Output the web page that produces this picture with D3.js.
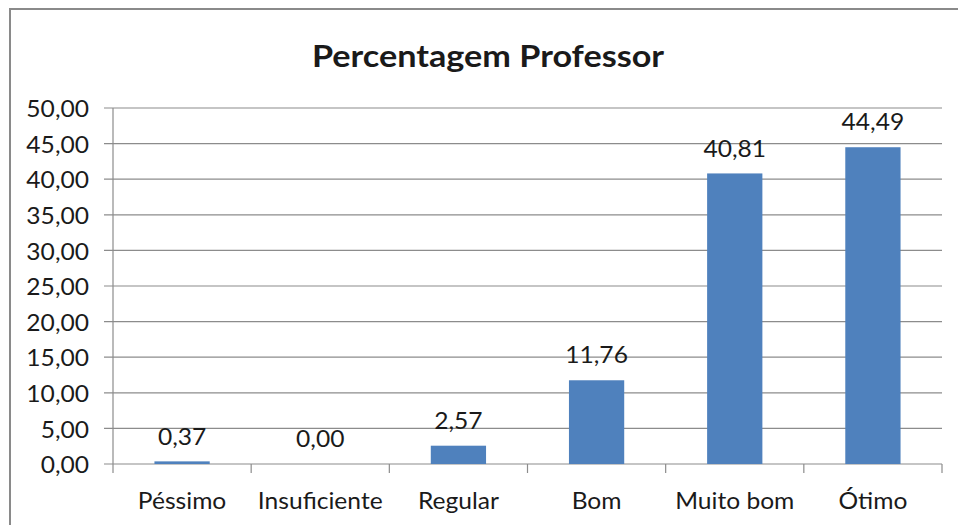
<!DOCTYPE html>
<html>
<head>
<meta charset="utf-8">
<script src="https://cdn.jsdelivr.net/npm/d3@7"></script>
<style>
  body { margin: 0; background: #fff; }
  text { font-family: Lato, "Open Sans", sans-serif; fill: #1a1a1a; }
</style>
</head>
<body>
<div id="content"></div>
<script>
// data
var categories = ["Péssimo", "Insuficiente", "Regular", "Bom", "Muito bom", "Ótimo"];
var values = [0.37, 0.00, 2.57, 11.76, 40.81, 44.49];
var yTicks = [0, 5, 10, 15, 20, 25, 30, 35, 40, 45, 50];
var title = "Percentagem Professor";

var W = 958, H = 525;
var margin = {top: 108, right: 16, bottom: 61, left: 113},
  width = W - margin.left - margin.right,
  height = H - margin.top - margin.bottom;

var fmt = function(v) { return v.toFixed(2).replace(".", ","); };
// the source font is wider than Lato, stretch text a bit
var sx = 1.07;
var place = function(px, py, s) { return "translate(" + px + "," + py + ") scale(" + s + ",1)"; };

var svg = d3.select("#content").append("svg")
  .attr("width", W)
  .attr("height", H);

// outer chart border (runs off the right / bottom edge)
svg.append("rect")
  .attr("x", 10).attr("y", 9)
  .attr("width", W + 20).attr("height", H + 20)
  .attr("fill", "none")
  .attr("stroke", "#8a8a8a")
  .attr("stroke-width", 2);

svg.append("text")
  .attr("transform", place(488, 55, 1.14))
  .attr("text-anchor", "middle")
  .attr("dominant-baseline", "central")
  .style("font-size", "30px")
  .style("font-weight", "bold")
  .text(title);

var g = svg.append("g")
  .attr("transform", "translate(" + margin.left + "," + margin.top + ")");

var x = d3.scaleBand().domain(categories).range([0, width]).paddingInner(0.6).paddingOuter(0.3);
var y = d3.scaleLinear().domain([0, 50]).range([height, 0]);

// gridlines
g.selectAll(".grid")
  .data(yTicks)
  .enter().append("line")
  .attr("x1", -9).attr("x2", width)
  .attr("y1", function(d) { return y(d); })
  .attr("y2", function(d) { return y(d); })
  .attr("stroke", "#8c8c8c")
  .attr("stroke-width", 1.2);

// y axis line
g.append("line")
  .attr("x1", 0).attr("x2", 0)
  .attr("y1", 0).attr("y2", height)
  .attr("stroke", "#8c8c8c").attr("stroke-width", 1.2);

// y labels
g.selectAll(".ylab")
  .data(yTicks)
  .enter().append("text")
  .attr("transform", function(d) { return place(-24, y(d), sx); })
  .attr("text-anchor", "end")
  .attr("dominant-baseline", "central")
  .style("font-size", "23px")
  .text(fmt);

// x axis ticks at band edges
var edges = categories.map(function(c) { return x(c) - x.step() * x.paddingInner() / 2; });
edges.push(width);
g.selectAll(".xtick")
  .data(edges)
  .enter().append("line")
  .attr("x1", function(d) { return d; })
  .attr("x2", function(d) { return d; })
  .attr("y1", height).attr("y2", height + 9)
  .attr("stroke", "#8c8c8c").attr("stroke-width", 1.2);

// bars
g.selectAll(".bar")
  .data(values)
  .enter().append("rect")
  .attr("x", function(d, i) { return x(categories[i]); })
  .attr("width", x.bandwidth())
  .attr("y", function(d) { return y(d); })
  .attr("height", function(d) { return height - y(d); })
  .attr("fill", "#4f81bd");

// value labels
g.selectAll(".val")
  .data(values)
  .enter().append("text")
  .attr("transform", function(d, i) { return place(x(categories[i]) + x.bandwidth() / 2, y(d) - 26, sx); })
  .attr("text-anchor", "middle")
  .attr("dominant-baseline", "central")
  .style("font-size", "23px")
  .text(fmt);

// category labels
g.selectAll(".cat")
  .data(categories)
  .enter().append("text")
  .attr("transform", function(d) { return place(x(d) + x.bandwidth() / 2, height + 36, sx); })
  .attr("text-anchor", "middle")
  .attr("dominant-baseline", "central")
  .style("font-size", "23px")
  .text(function(d) { return d; });
</script>
</body>
</html>
